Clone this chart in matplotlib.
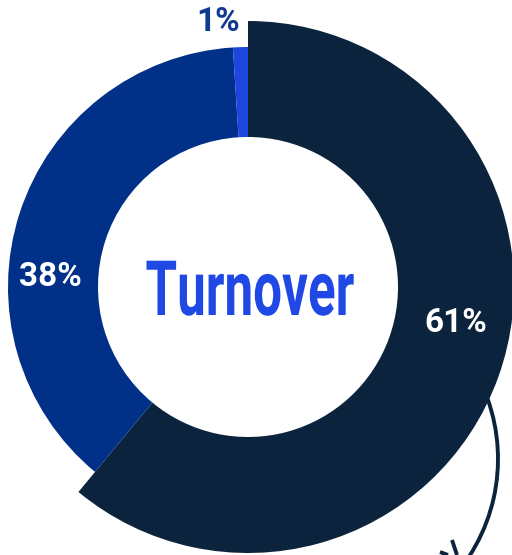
import numpy as np
import matplotlib
matplotlib.use("Agg")
import matplotlib.pyplot as plt
from matplotlib.patches import Arc
from matplotlib.patheffects import AbstractPathEffect
from matplotlib.transforms import Affine2D

# data
labels = ['61%', '38%', '1%']
values = [61, 38, 1]
colors = ['#0c233d', '#003087', '#1f45e0']
label_colors = ['white', 'white', '#0f3a8f']
title = 'Turnover'


class Squeeze(AbstractPathEffect):
    # narrows the glyphs horizontally around the middle of the text
    def __init__(self, sx):
        super().__init__()
        self.sx = sx

    def draw_path(self, renderer, gc, tpath, affine, rgbFace=None):
        v = tpath.vertices
        cx = (np.nanmin(v[:, 0]) + np.nanmax(v[:, 0])) / 2
        t = Affine2D().translate(-cx, 0).scale(self.sx, 1).translate(cx, 0)
        renderer.draw_path(gc, tpath, t + affine, rgbFace)


fig = plt.figure(figsize=(5.12, 5.55), dpi=100)
ax = fig.add_axes([0, 0, 1, 1])

R = 240
W = 90
wedges, _ = ax.pie(values, colors=colors, startangle=90, counterclock=False,
                   radius=R, center=(0, 0),
                   wedgeprops=dict(width=W, linewidth=0))

# the biggest slice sticks out further
wedges[0].set_radius(266)
wedges[0].set_width(116)

ax.set_xlim(-248, 264)
ax.set_ylim(-268, 287)
ax.set_aspect('equal')
ax.axis('off')

# labels
lab_pos = [(208, -36), (-198, 10), (-30, 265)]
for txt, col, (x, y) in zip(labels, label_colors, lab_pos):
    ax.text(x, y, txt, color=col, fontsize=24, fontweight='bold',
            family=['Roboto', 'DejaVu Sans'], ha='center', va='center')

ax.text(2, -28, title, color='#1f48e5', fontsize=55, fontweight='bold',
        family=['Roboto', 'DejaVu Sans'], ha='center', va='baseline',
        path_effects=[Squeeze(0.67)])

# curved arrow at the right edge
ax.add_patch(Arc((71, -172), 2 * 179, 2 * 179, theta1=-45, theta2=19.5,
                 color='#0c233d', lw=2.8))
ax.plot([204, 209], [-253, -268], color='#0c233d', lw=2.8,
        solid_capstyle='butt')
ax.plot([192, 200], [-265, -268], color='#0c233d', lw=2.8,
        solid_capstyle='butt')

fig.savefig('out.png', dpi=100)
